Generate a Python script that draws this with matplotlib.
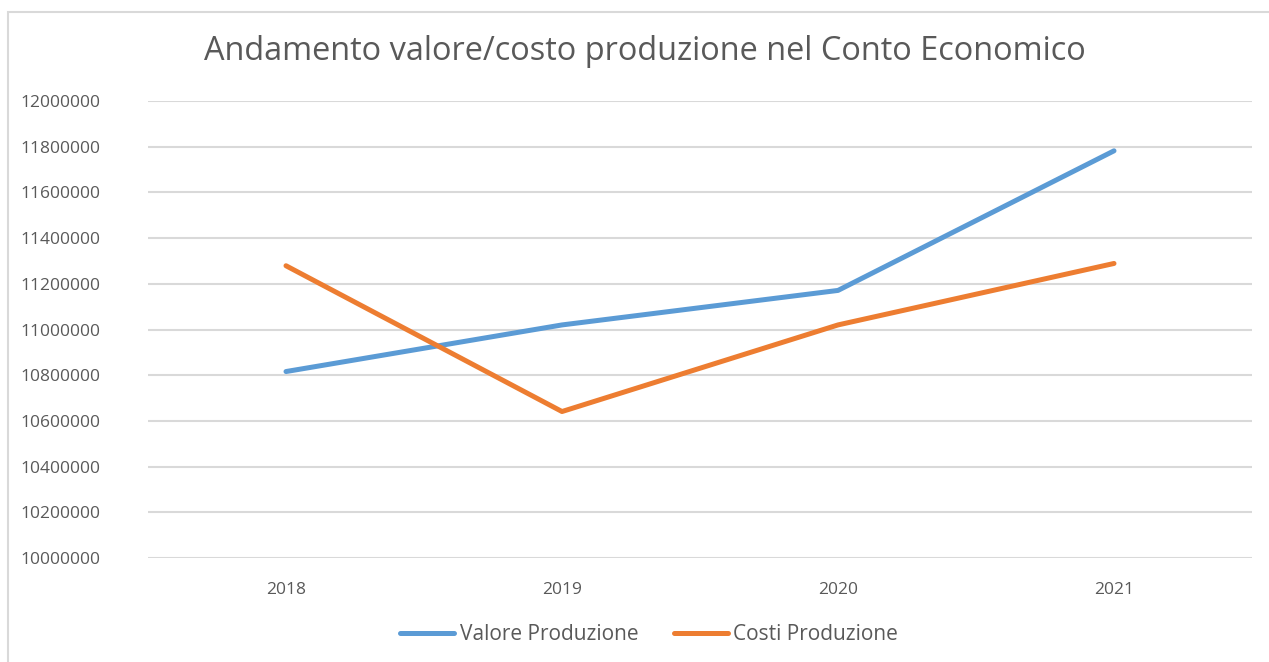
import matplotlib.pyplot as plt
from matplotlib.patches import Rectangle

# values
anni = ['2018', '2019', '2020', '2021']
valore_produzione = [10816000, 11020000, 11171000, 11782000]
costi_produzione = [11279000, 10641000, 11020000, 11289000]
y_ticks = list(range(10000000, 12000001, 200000))

plt.rcParams['font.family'] = ['Open Sans', 'DejaVu Sans']
text_col = '#595959'
grid_col = '#D9D9D9'

W, H = 1269, 662
fig = plt.figure(figsize=(W / 100, H / 100), dpi=100)

# chart frame (only top and left edges are visible in the crop)
fig.patches.append(Rectangle((8 / W, -0.1), 1.2, 1 - 12 / H + 0.1,
                             transform=fig.transFigure, fill=False,
                             edgecolor='#D9D9D9', linewidth=1.5))

ax = fig.add_axes([148 / W, 1 - 558 / H, (1252 - 148) / W, (558 - 101) / H])
x = range(len(anni))
ax.plot(x, valore_produzione, color='#5B9BD5', linewidth=3.6,
        solid_capstyle='round', solid_joinstyle='round', label='Valore Produzione')
ax.plot(x, costi_produzione, color='#ED7D31', linewidth=3.6,
        solid_capstyle='round', solid_joinstyle='round', label='Costi Produzione')

ax.set_xlim(-0.5, len(anni) - 0.5)
ax.set_ylim(10000000, 12000000)
ax.set_xticks(list(x))
ax.set_xticklabels(anni)
ax.set_yticks(y_ticks)
ax.set_yticklabels([str(v) for v in y_ticks])
ax.tick_params(length=0, labelsize=12.5, colors=text_col)
ax.tick_params(axis='y', pad=34)
ax.tick_params(axis='x', pad=17)
ax.yaxis.grid(True, color=grid_col, linewidth=1.5)
ax.set_axisbelow(True)
for s in ax.spines.values():
    s.set_visible(False)

fig.text(645 / W, 1 - 52 / H, 'Andamento valore/costo produzione nel Conto Economico',
         ha='center', va='center', fontsize=23.4, color=text_col)

fig.legend(loc='center', bbox_to_anchor=(649 / W, 1 - 635 / H), ncol=2,
           frameon=False, fontsize=15, labelcolor=text_col,
           handlelength=2.6, handletextpad=0.25, columnspacing=1.7)

fig.savefig('out.png', dpi=100)
